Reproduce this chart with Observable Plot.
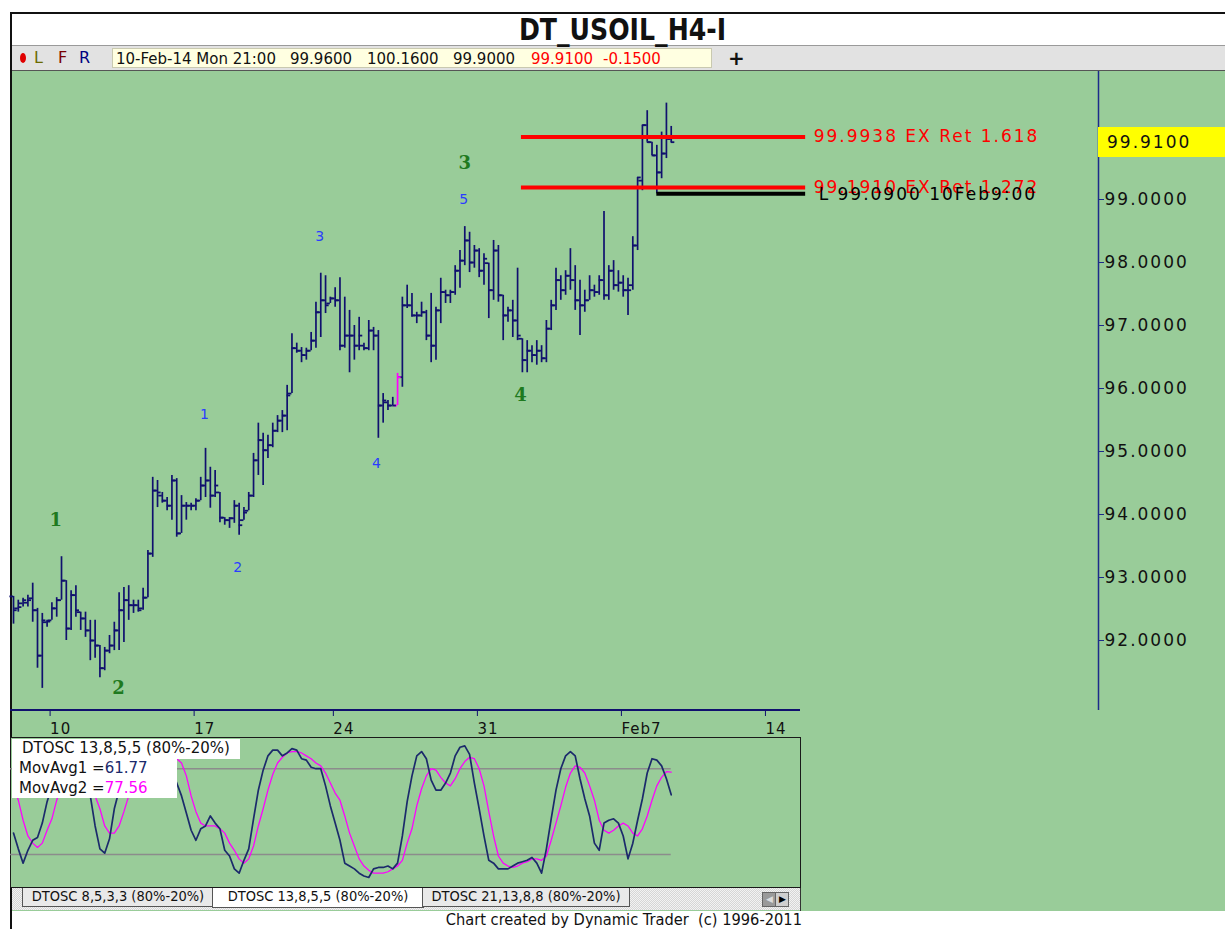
<!DOCTYPE html>
<html><head><meta charset="utf-8">
<script src="https://cdn.jsdelivr.net/npm/d3@7"></script>
<script src="https://cdn.jsdelivr.net/npm/@observablehq/plot@0.6"></script>
<style>
body{margin:0;background:#fff;width:1225px;height:929px;overflow:hidden;position:relative;font-family:"DejaVu Sans",sans-serif;}
.abs{position:absolute;}
.tv{position:absolute;top:0;line-height:20px;}
.tab{position:absolute;top:0;height:19px;line-height:18px;border:1px solid #555;border-top:none;background:#e9e9e9;font:14.5px "DejaVu Sans Condensed",sans-serif;color:#111;text-align:center;white-space:nowrap;box-sizing:border-box;}
</style></head><body>
<script>
// ---------- DATA ----------
const opens = [92.70,92.51,92.59,92.60,92.67,92.48,91.76,92.29,92.32,92.51,
92.64,92.95,92.19,92.72,92.45,92.35,92.16,92.00,91.92,91.56,
91.84,91.92,92.16,92.48,92.64,92.56,92.56,92.51,92.68,93.38,
94.38,94.30,94.22,94.14,94.54,93.70,94.14,94.14,94.14,94.22,
94.46,94.54,94.30,94.35,93.95,93.91,93.94,94.14,93.91,94.06,
94.30,94.86,95.18,95.02,95.10,95.33,95.49,95.57,95.92,96.64,
96.60,96.53,96.60,96.76,97.21,97.40,97.35,97.43,97.40,96.68,
96.84,96.84,96.68,96.68,96.64,96.92,96.84,95.73,95.78,95.73,
95.73,96.18,97.32,97.32,97.16,97.16,97.21,96.84,96.68,97.24,
97.53,97.48,97.53,97.87,98.03,98.35,98.00,98.19,97.87,97.99,
97.56,98.19,97.48,97.16,97.24,97.08,96.79,96.45,96.60,96.53,
96.60,96.48,96.95,97.32,97.72,97.56,97.79,97.72,97.40,97.32,
97.40,97.56,97.53,97.72,97.48,97.87,97.64,97.68,97.56,97.64,
98.27,99.30,100.18,99.91,99.70,99.43,99.73,99.96];
const highs = [92.70,92.64,92.67,92.72,92.91,92.51,92.43,92.32,92.60,92.68,
93.33,92.95,92.79,92.87,92.45,92.45,92.32,92.32,91.92,91.89,
92.08,92.29,92.76,92.84,92.87,92.64,92.64,92.83,93.43,94.59,
94.54,94.35,94.27,94.62,94.57,94.30,94.19,94.18,94.25,94.59,
95.05,94.75,94.70,94.35,93.95,93.95,94.22,94.18,94.11,94.35,
94.97,95.45,95.29,95.26,95.45,95.57,95.65,96.05,96.87,96.72,
96.65,96.64,96.89,97.37,97.83,97.79,97.45,97.60,97.76,97.45,
97.24,97.00,97.13,96.72,97.08,96.97,96.92,95.92,95.81,95.86,
96.24,97.45,97.64,97.51,97.21,97.37,97.24,97.51,97.29,97.75,
97.56,97.56,97.95,98.19,98.57,98.48,98.27,98.22,98.14,97.99,
98.35,98.27,97.48,97.29,97.40,97.91,96.79,96.76,96.68,96.76,
96.68,97.08,97.40,97.91,97.79,97.87,98.22,97.95,97.72,97.56,
97.79,97.64,97.79,98.81,97.95,98.03,97.87,97.79,97.75,98.41,
99.35,100.18,100.41,99.91,99.86,100.07,100.53,100.16];
const lows = [92.26,92.45,92.53,92.53,92.29,91.56,91.24,92.21,92.32,92.37,
92.64,92.00,92.16,92.37,92.16,92.05,91.68,91.72,91.41,91.52,
91.79,91.84,91.84,91.97,92.32,92.43,92.45,92.48,92.68,93.32,
94.11,94.18,94.06,93.91,93.64,93.70,93.91,94.06,94.06,94.22,
94.27,94.10,94.27,93.87,93.83,93.78,93.86,93.67,93.91,94.06,
94.27,94.62,94.46,94.89,95.06,95.30,95.30,95.33,95.92,96.56,
96.41,96.45,96.60,96.64,96.81,97.19,97.35,97.29,96.60,96.64,
96.25,96.45,96.60,96.60,96.60,96.60,95.21,95.45,95.65,95.73,
95.73,96.02,97.27,97.13,97.03,97.13,96.76,96.41,96.45,97.03,
97.35,97.35,97.48,97.59,97.95,97.84,97.91,97.76,97.64,97.11,
97.40,97.37,96.76,97.05,96.81,96.76,96.25,96.25,96.41,96.37,
96.41,96.41,96.92,97.24,97.40,97.48,97.56,97.24,96.84,97.21,
97.40,97.45,97.48,97.40,97.40,97.56,97.53,97.45,97.16,97.56,
98.19,99.14,99.91,99.70,99.09,99.33,99.65,99.90];
const closes = [92.48,92.53,92.64,92.64,92.48,91.76,92.32,92.30,92.51,92.64,
92.95,92.19,92.72,92.48,92.35,92.16,92.00,91.92,91.56,91.84,
91.92,92.16,92.48,92.64,92.56,92.56,92.48,92.68,93.38,94.38,
94.35,94.22,94.14,94.54,93.70,94.14,94.14,94.14,94.22,94.46,
94.54,94.30,94.46,93.95,93.91,93.94,94.14,93.83,94.03,94.30,
94.86,95.18,95.02,95.10,95.33,95.49,95.57,95.89,96.64,96.60,
96.53,96.60,96.76,97.21,97.40,97.32,97.43,97.40,96.68,96.84,
96.84,96.68,96.84,96.64,96.92,96.84,95.73,95.81,95.73,95.73,
96.18,97.32,97.32,97.16,97.16,97.21,96.84,96.68,97.24,97.53,
97.48,97.53,97.87,98.03,98.35,98.00,98.19,97.87,98.06,97.56,
98.19,97.48,97.16,97.24,97.08,96.84,96.45,96.60,96.53,96.60,
96.48,96.95,97.32,97.72,97.56,97.79,97.72,97.40,97.32,97.40,
97.56,97.53,97.72,97.48,97.87,97.64,97.68,97.56,97.56,98.27,
99.35,100.18,99.91,99.70,99.43,99.73,99.97,99.91];
const highlightBars = [80];

const oscFast = [35,24,14,23,30,32,42,57,68,79,
86,87,82,77,72,65,61,40,24,21,
31,52,65,75,82,87,91,93,91,94,
93,89,84,79,70,61,49,37,30,38,
40,47,42,38,23,19,10,7,16,24,
45,65,79,89,93,93,89,91,94,93,
87,86,81,80,80,68,54,42,30,14,
12,10,7,5,4,10,11,11,12,10,
14,33,57,75,89,92,87,72,65,65,
70,77,89,95,96,90,70,52,33,16,
14,10,10,10,12,14,15,16,18,14,
7,24,45,65,80,89,92,89,73,59,
47,28,23,42,44,45,42,33,17,28,
44,59,77,87,86,82,73,61.77];
const oscSlow = [68,58,44,33,28,25,28,37,45,58,
68,77,82,83,82,79,72,61,52,40,
35,35,40,50,61,72,79,84,88,90,
91,91,91,89,87,84,75,61,50,42,
40,40,40,38,35,28,23,17,14,17,
26,40,52,65,76,84,88,91,92,92,
91,89,87,84,82,77,70,63,58,47,
35,26,17,12,9,7,7,7,8,10,
12,16,28,38,54,66,75,80,79,74,
70,68,73,80,85,88,87,80,68,50,
33,19,14,12,11,12,14,15,17,17,
16,19,30,42,54,67,77,82,81,77,
68,58,44,37,35,37,40,42,40,35,
33,38,47,58,68,74,78,77.56];
const oscLevels = [80, 20];

const yTicks = [92, 93, 94, 95, 96, 97, 98, 99];
const xTickIdx = [7, 37, 66, 96, 126, 156];
const xTickLabels = ["10", "17", "24", "31", "Feb7", "14"];

const waveMajor = [{t:"1", i:9, p:93.91}, {t:"2", i:22.1, p:91.24}, {t:"3", i:94.2, p:99.57}, {t:"4", i:105.8, p:95.89}];
const waveMinor = [{t:"1", i:40, p:95.59}, {t:"2", i:46.9, p:93.16}, {t:"3", i:64, p:98.41}, {t:"4", i:75.8, p:94.81}, {t:"5", i:94, p:99.00}];

const fibLines = [{level:99.9938, start:105.8, label:"99.9938 EX Ret 1.618"}, {level:99.1910, start:105.8, label:"99.1910 EX Ret 1.272"}];
const lowLine = [{level:99.09, start:134, label:"L 99.0900 10Feb9:00"}];
const lineEnd = 165;

const title = "DT_USOIL_H4-I";
const infoDate = "10-Feb-14 Mon 21:00";
const infoValues = ["99.9600", "100.1600", "99.9000", "99.9100", "-0.1500"];
const legendTitle = "DTOSC 13,8,5,5 (80%-20%)";
const legendNames = ["MovAvg1 =", "MovAvg2 ="];
const tabs = ["DTOSC 8,5,3,3 (80%-20%)", "DTOSC 13,8,5,5 (80%-20%)", "DTOSC 21,13,8,8 (80%-20%)"];
const caption = "Chart created by Dynamic Trader  (c) 1996-2011";

// ---------- STYLE ----------
const GREEN = "#99cc99", NAVY = "#10106e", OSCNAVY = "#1b2a6b", MAG = "#ff00ff";
const N = opens.length;
const bars = d3.range(N).map(i => ({i, open: opens[i], high: highs[i], low: lows[i], close: closes[i]}));
const barColor = d => highlightBars.includes(d.i) ? MAG : NAVY;
const xLabelMap = new Map(xTickIdx.map((d, k) => [d, xTickLabels[k]]));
const X_DOMAIN = [0, 226], X_RANGE = [13, 1098];
const TL = 0.75;

function el(tag, style, text, parent = document.body) {
  const e = document.createElement(tag);
  e.setAttribute("style", style);
  if (text != null) e.textContent = text;
  parent.appendChild(e);
  return e;
}
function abs(style, text, parent) { const e = el("div", style, text, parent); e.className = "abs"; return e; }

// backgrounds / frame
abs(`left:11px;top:71px;width:1214px;height:840px;background:${GREEN}`);
abs("left:11px;top:13px;width:1214px;height:32px;background:#fff");
abs("left:11px;top:45px;width:1214px;height:1px;background:#9a9a9a");
abs("left:11px;top:46px;width:1214px;height:24px;background:#e2e2e2");
abs("left:11px;top:70px;width:1214px;height:1px;background:#555");
abs("left:10px;top:12px;width:1215px;height:2px;background:#111");
abs("left:10px;top:12px;width:2px;height:917px;background:#111");

// title
abs("left:10px;top:13px;width:1225px;height:32px;text-align:center;font:bold 28px 'DejaVu Sans Condensed',sans-serif;line-height:33px;color:#111;transform:scaleY(1.08);", title);

// toolbar
abs("left:20px;top:53px;width:6px;height:10px;border-radius:50%;background:#e00000");
[["L","#6b6b00",34],["F","#7a0000",58],["R","#000080",79]].forEach(([t,c,x]) => {
  abs(`left:${x}px;top:48px;font:16px 'DejaVu Sans',sans-serif;color:${c};line-height:20px`, t);
});
const yb = abs("left:112px;top:48px;width:600px;height:20px;background:#ffffe1;border:1px solid #c9c9b0;box-sizing:border-box;font:15px 'DejaVu Sans',sans-serif;color:#111");
el("span", "left:3px", infoDate, yb).className="tv";
const infoX = [177, 254, 340, 418, 490];
infoValues.forEach((v, k) => el("span", `left:${infoX[k]}px;color:${k >= 3 ? "#ff0000" : "#111"}`, v, yb).className = "tv");
abs("left:728px;top:46px;font:bold 20px 'DejaVu Sans',sans-serif;line-height:24px;color:#111", "+");

// ---------- MAIN PRICE PLOT ----------
const main = Plot.plot({
  width: 1225, height: 670,
  marginLeft: 13, marginRight: 127, marginTop: 0, marginBottom: 31,
  x: {domain: X_DOMAIN, range: X_RANGE},
  y: {domain: [90.889, 101.032], range: [639, 0]},
  style: {background: "none", fontFamily: "'DejaVu Sans', sans-serif", fontSize: "17px", letterSpacing: "2px", overflow: "visible", color: "#111"},
  marks: [
    Plot.ruleX([X_DOMAIN[1]], {stroke: "#1c2a8a", strokeWidth: 1.5}),
    Plot.axisY(yTicks, {anchor: "right", tickSize: 5, tickPadding: 1, tickFormat: d3.format(".4f"), fontSize: 17, stroke: "#1c2a8a", fill: "#111"}),
    Plot.axisX(xTickIdx, {anchor: "bottom", tickSize: 6, tickPadding: 7, tickFormat: d => xLabelMap.get(d), textAnchor: "start", dx: 3, fontSize: 15, stroke: NAVY, fill: "#111"}),
    Plot.ruleX(bars, {x: "i", y1: "low", y2: "high", stroke: barColor, strokeWidth: 1.7}),
    Plot.ruleY(bars, {y: "open", x1: d => d.i - TL, x2: "i", stroke: barColor, strokeWidth: 1.8}),
    Plot.ruleY(bars, {y: "close", x1: "i", x2: d => d.i + TL, stroke: barColor, strokeWidth: 1.8}),
    Plot.ruleY(fibLines, {y: "level", x1: "start", x2: () => lineEnd, stroke: "#ff0000", strokeWidth: 4}),
    Plot.ruleY(lowLine, {y: "level", x1: "start", x2: () => lineEnd, stroke: "#000", strokeWidth: 4}),
    Plot.text(fibLines, {x: () => lineEnd, y: "level", text: "label", dx: 8, textAnchor: "start", fill: "#ff0000", fontSize: 17}),
    Plot.text(lowLine, {x: () => lineEnd, y: "level", text: "label", dx: 13, dy: 1, textAnchor: "start", fill: "#000", fontSize: 17}),
    Plot.text(waveMajor, {x: "i", y: "p", text: "t", fill: "#1f7a1f", fontSize: 18, fontWeight: "bold", fontFamily: "'DejaVu Serif', serif"}),
    Plot.text(waveMinor, {x: "i", y: "p", text: "t", fill: "#2a3cff", fontSize: 14, fontFamily: "'DejaVu Sans', sans-serif"})
  ]
});
d3.select(main).selectAll('[aria-label="x-axis tick label"] text').attr("letter-spacing", "1px");
const mainWrap = abs("left:0px;top:71px");
mainWrap.appendChild(main);

// bottom axis line
abs(`left:10px;top:709px;width:790px;height:2px;background:${NAVY}`);

// last price box
const yS = main.scale("y");
const lastClose = closes[N - 1];
abs(`left:1098px;top:${71 + yS.apply(lastClose) - 15}px;width:127px;height:30px;background:#ffff00;font:17px 'DejaVu Sans',sans-serif;letter-spacing:2px;line-height:30px;color:#111;padding-left:9px;box-sizing:border-box`, d3.format(".4f")(lastClose));

// ---------- OSCILLATOR ----------
abs(`left:10px;top:737px;width:791px;height:151px;border:1.5px solid #1a1a1a;box-sizing:border-box;background:${GREEN}`);
const oscData = d3.range(N).map(i => ({i, f: oscFast[i], s: oscSlow[i]}));
const osc = Plot.plot({
  width: 800, height: 150, marginLeft: 0, marginRight: 0, marginTop: 0, marginBottom: 0,
  x: {domain: X_DOMAIN, range: X_RANGE, axis: null},
  y: {domain: [0, 100], range: [145.7, 2.6], axis: null},
  style: {background: "none", overflow: "visible"},
  marks: [
    Plot.ruleY(oscLevels, {x1: () => -0.6, x2: () => N - 1, stroke: "#8c8c8c", strokeWidth: 1.5}),
    Plot.line(oscData, {x: "i", y: "s", stroke: MAG, strokeWidth: 1.3}),
    Plot.line(oscData, {x: "i", y: "f", stroke: OSCNAVY, strokeWidth: 1.7})
  ]
});
const oscWrap = abs("left:0px;top:737px");
oscWrap.appendChild(osc);

// legend
abs("left:12px;top:739px;width:228px;height:20px;background:#fff");
abs("left:12px;top:758px;width:165px;height:40px;background:#fff");
abs("left:22px;top:738px;font:15px 'DejaVu Sans',sans-serif;line-height:20px;color:#111", legendTitle);
const lastVals = [oscFast[N-1], oscSlow[N-1]];
const lastColors = [OSCNAVY, MAG];
legendNames.forEach((nm, k) => {
  const d = abs(`left:19px;top:${758 + 20*k}px;font:15px 'DejaVu Sans',sans-serif;line-height:20px;color:#111;white-space:nowrap`, nm);
  el("span", `color:${lastColors[k]}`, d3.format(".2f")(lastVals[k]), d);
});

// ---------- TABS ----------
abs("left:12px;top:888px;width:788px;height:22px;background:repeating-conic-gradient(#d6d6d6 0 25%, #f3f3f3 0 50%) 0 0/2px 2px");
abs("left:800px;top:888px;width:1px;height:23px;background:#333");
const tabWrap = abs("left:0px;top:888px;width:800px;height:22px");
const tabX = [22, 212, 422], tabW = [192, 212, 208];
tabs.forEach((t, k) => {
  const d = el("div", `left:${tabX[k]}px;width:${tabW[k]}px;${k === 1 ? "background:#fff;height:20px;" : ""}`, t, tabWrap);
  d.className = "tab";
});
abs("left:762px;top:892px;width:12px;height:13px;background:#9a9a9a;border:1px solid #666;font:9px sans-serif;color:#ddd;line-height:13px;text-align:center", "◀");
abs("left:775px;top:892px;width:12px;height:13px;background:#cfcfcf;border:1px solid #666;font:9px sans-serif;color:#000;line-height:13px;text-align:center", "▶");

// caption
abs("left:300px;top:910px;width:502px;text-align:right;font:16.3px 'DejaVu Sans Condensed',sans-serif;line-height:20px;color:#111;white-space:pre", caption);
</script>
</body></html>
